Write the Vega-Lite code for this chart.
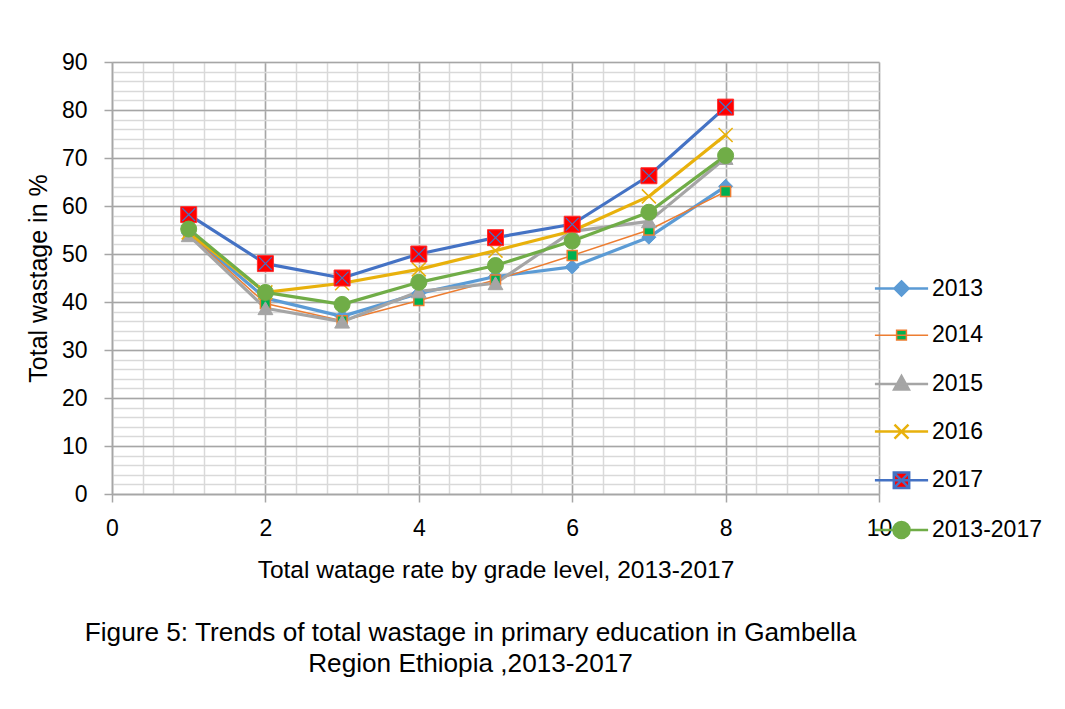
{
  "$schema": "https://vega.github.io/schema/vega-lite/v6.json",
  "width": 767,
  "height": 432,
  "autosize": "none",
  "padding": {"left": 112, "top": 62, "right": 186, "bottom": 215},
  "background": "white",
  "config": {
    "view": {"stroke": null},
    "font": "Liberation Sans"
  },
  "title": {
    "text": ["Figure 5: Trends of total wastage in primary education in Gambella", "Region Ethiopia ,2013-2017"],
    "orient": "bottom",
    "anchor": "middle",
    "font": "Liberation Sans",
    "fontSize": 26.2,
    "fontWeight": "normal",
    "color": "#000000",
    "lineHeight": 31,
    "offset": 38,
    "dx": -25
  },
  "data": {
    "values": [
      {"grade": 1, "series": "2013", "value": 54.3},
      {"grade": 2, "series": "2013", "value": 40.8},
      {"grade": 3, "series": "2013", "value": 37.0},
      {"grade": 4, "series": "2013", "value": 41.8},
      {"grade": 5, "series": "2013", "value": 45.3},
      {"grade": 6, "series": "2013", "value": 47.3},
      {"grade": 7, "series": "2013", "value": 53.5},
      {"grade": 8, "series": "2013", "value": 64.1},
      {"grade": 1, "series": "2014", "value": 54.2},
      {"grade": 2, "series": "2014", "value": 39.7},
      {"grade": 3, "series": "2014", "value": 36.1},
      {"grade": 4, "series": "2014", "value": 40.3},
      {"grade": 5, "series": "2014", "value": 44.6},
      {"grade": 6, "series": "2014", "value": 49.7},
      {"grade": 7, "series": "2014", "value": 55.0},
      {"grade": 8, "series": "2014", "value": 63.0},
      {"grade": 1, "series": "2015", "value": 53.9},
      {"grade": 2, "series": "2015", "value": 38.7},
      {"grade": 3, "series": "2015", "value": 35.9},
      {"grade": 4, "series": "2015", "value": 42.2},
      {"grade": 5, "series": "2015", "value": 43.9},
      {"grade": 6, "series": "2015", "value": 54.7},
      {"grade": 7, "series": "2015", "value": 56.8},
      {"grade": 8, "series": "2015", "value": 70.0},
      {"grade": 1, "series": "2016", "value": 54.5},
      {"grade": 2, "series": "2016", "value": 42.0},
      {"grade": 3, "series": "2016", "value": 43.9},
      {"grade": 4, "series": "2016", "value": 46.8},
      {"grade": 5, "series": "2016", "value": 50.7},
      {"grade": 6, "series": "2016", "value": 54.8},
      {"grade": 7, "series": "2016", "value": 62.0},
      {"grade": 8, "series": "2016", "value": 74.8},
      {"grade": 1, "series": "2017", "value": 58.2},
      {"grade": 2, "series": "2017", "value": 48.0},
      {"grade": 3, "series": "2017", "value": 45.0},
      {"grade": 4, "series": "2017", "value": 50.0},
      {"grade": 5, "series": "2017", "value": 53.4},
      {"grade": 6, "series": "2017", "value": 56.2},
      {"grade": 7, "series": "2017", "value": 66.3},
      {"grade": 8, "series": "2017", "value": 80.6},
      {"grade": 1, "series": "2013-2017", "value": 55.2},
      {"grade": 2, "series": "2013-2017", "value": 42.0},
      {"grade": 3, "series": "2013-2017", "value": 39.5},
      {"grade": 4, "series": "2013-2017", "value": 44.1},
      {"grade": 5, "series": "2013-2017", "value": 47.6},
      {"grade": 6, "series": "2013-2017", "value": 52.7},
      {"grade": 7, "series": "2013-2017", "value": 58.7},
      {"grade": 8, "series": "2013-2017", "value": 70.5}
    ]
  },
  "resolve": {"axis": {"x": "independent", "y": "independent"}},
  "layer": [
    {
      "mark": {"type": "line", "strokeJoin": "round", "strokeCap": "round"},
      "encoding": {
        "x": {
          "field": "grade", "type": "quantitative",
          "scale": {"domain": [0, 10], "nice": false, "zero": false},
          "axis": {
            "orient": "bottom",
            "values": [0, 0.4, 0.8, 1.2, 1.6, 2, 2.4, 2.8, 3.2, 3.6, 4, 4.4, 4.8, 5.2, 5.6, 6, 6.4, 6.8, 7.2, 7.6, 8, 8.4, 8.8, 9.2, 9.6, 10],
            "grid": true, "gridColor": "#d9d9d9", "gridWidth": 1.5,
            "labels": false, "ticks": false, "domain": false, "title": null
          }
        },
        "y": {
          "field": "value", "type": "quantitative",
          "scale": {"domain": [0, 90], "nice": false, "zero": false},
          "axis": {
            "orient": "left",
            "values": [0, 2, 4, 6, 8, 10, 12, 14, 16, 18, 20, 22, 24, 26, 28, 30, 32, 34, 36, 38, 40, 42, 44, 46, 48, 50, 52, 54, 56, 58, 60, 62, 64, 66, 68, 70, 72, 74, 76, 78, 80, 82, 84, 86, 88, 90],
            "grid": true, "gridColor": "#d9d9d9", "gridWidth": 1.5,
            "labels": false, "ticks": false, "domain": false, "title": null
          }
        },
        "color": {
          "field": "series", "type": "nominal",
          "scale": {
            "domain": ["2013", "2014", "2015", "2016", "2017", "2013-2017"],
            "range": ["#5B9BD5", "#ED7D31", "#A5A5A5", "#E8B10C", "#4472C4", "#70AD47"]
          },
          "legend": {
            "title": null,
            "orient": "none",
            "legendX": 778,
            "legendY": 215,
            "padding": 0,
            "rowPadding": 22.7,
            "labelFont": "Liberation Sans",
            "labelFontSize": 23,
            "labelColor": "#000000",
            "labelOffset": 19,
            "symbolSize": 196,
            "symbolStrokeWidth": 2.5,
            "encode": {
              "symbols": {
                "update": {
                  "shape": {"signal": "datum.value === '2013' ? 'M-3.8,0L3.8,0M0,-1L1,0L0,1L-1,0Z' : datum.value === '2014' ? 'M-3.8,0L3.8,0M-0.7,-0.7L0.7,-0.7L0.7,0.7L-0.7,0.7Z' : datum.value === '2015' ? 'M-3.8,0L3.8,0M0,-1.1L1.05,0.8L-1.05,0.8Z' : datum.value === '2016' ? 'M-3.8,0L3.8,0M-1,-1L1,1M-1,1L1,-1' : datum.value === '2017' ? 'M-3.8,0L3.8,0M-1.1,-1.1L1.1,-1.1L1.1,1.1L-1.1,1.1ZM-1,-1L1,1M-1,1L1,-1' : 'M-3.8,0L3.8,0M-1.15,0A1.15,1.15,0,1,0,1.15,0A1.15,1.15,0,1,0,-1.15,0Z'"},
                  "fill": {"signal": "datum.value === '2013' ? '#5B9BD5' : datum.value === '2014' ? '#00B050' : datum.value === '2015' ? '#A5A5A5' : datum.value === '2016' ? 'transparent' : datum.value === '2017' ? '#FF0000' : '#70AD47'"},
                  "strokeWidth": {"signal": "datum.value === '2014' ? 1.5 : 2.5"},
                  "opacity": {"value": 1}
                }
              }
            }
          }
        },
        "strokeWidth": {
          "condition": {"test": "datum.series === '2014'", "value": 1.5},
          "value": 3.2
        }
      }
    },
    {
      "transform": [{"filter": "datum.series === '2013'"}],
      "mark": {"type": "point", "shape": "diamond", "size": 196, "fill": "#5B9BD5", "stroke": "#5B9BD5", "strokeWidth": 1, "opacity": 1, "filled": true},
      "encoding": {
        "x": {
          "field": "grade", "type": "quantitative",
          "axis": {
            "orient": "bottom",
            "values": [0, 2, 4, 6, 8, 10],
            "grid": true, "gridColor": "#a6a6a6", "gridWidth": 1.5,
            "domain": true, "domainColor": "#a6a6a6", "domainWidth": 1.5,
            "ticks": true, "tickColor": "#a6a6a6", "tickWidth": 1.5, "tickSize": 8,
            "labelFont": "Liberation Sans", "labelFontSize": 23, "labelColor": "#000000", "labelPadding": 15, "labelFlush": false,
            "title": "Total watage rate by grade level, 2013-2017",
            "titleFont": "Liberation Sans", "titleFontSize": 24.5, "titleFontWeight": "normal", "titleColor": "#000000", "titlePadding": 18
          }
        },
        "y": {
          "field": "value", "type": "quantitative",
          "axis": {
            "orient": "left",
            "values": [0, 10, 20, 30, 40, 50, 60, 70, 80, 90],
            "grid": true, "gridColor": "#a6a6a6", "gridWidth": 1.5,
            "domain": true, "domainColor": "#a6a6a6", "domainWidth": 1.5,
            "ticks": true, "tickColor": "#a6a6a6", "tickWidth": 1.5, "tickSize": 8,
            "labelFont": "Liberation Sans", "labelFontSize": 23, "labelColor": "#000000", "labelPadding": 17, "labelFlush": false,
            "title": "Total wastage in %",
            "titleFont": "Liberation Sans", "titleFontSize": 25, "titleFontWeight": "normal", "titleColor": "#000000", "titlePadding": 10
          }
        }
      }
    },
    {
      "transform": [{"filter": "datum.series === '2014'"}],
      "mark": {"type": "point", "shape": "square", "size": 100, "fill": "#00B050", "stroke": "#ED7D31", "strokeWidth": 1.5, "opacity": 1, "filled": true},
      "encoding": {
        "x": {"field": "grade", "type": "quantitative", "axis": null},
        "y": {"field": "value", "type": "quantitative", "axis": null}
      }
    },
    {
      "transform": [{"filter": "datum.series === '2015'"}],
      "mark": {"type": "point", "shape": "triangle-up", "size": 220, "fill": "#A5A5A5", "stroke": "#A5A5A5", "strokeWidth": 1, "opacity": 1, "filled": true},
      "encoding": {
        "x": {"field": "grade", "type": "quantitative", "axis": null},
        "y": {"field": "value", "type": "quantitative", "axis": null}
      }
    },
    {
      "transform": [{"filter": "datum.series === '2016'"}],
      "mark": {"type": "point", "shape": "M-1,-1L1,1M-1,1L1,-1", "size": 196, "filled": false, "stroke": "#E8B10C", "strokeWidth": 1.5, "opacity": 1},
      "encoding": {
        "x": {"field": "grade", "type": "quantitative", "axis": null},
        "y": {"field": "value", "type": "quantitative", "axis": null}
      }
    },
    {
      "transform": [{"filter": "datum.series === '2017'"}],
      "mark": {"type": "point", "shape": "square", "size": 256, "fill": "#FF0000", "stroke": "#FF3030", "strokeWidth": 1, "opacity": 1, "filled": true},
      "encoding": {
        "x": {"field": "grade", "type": "quantitative", "axis": null},
        "y": {"field": "value", "type": "quantitative", "axis": null}
      }
    },
    {
      "transform": [{"filter": "datum.series === '2017'"}],
      "mark": {"type": "point", "filled": false, "shape": "M-0.8,-0.8L0.8,0.8M-0.8,0.8L0.8,-0.8", "size": 256, "stroke": "#4472C4", "strokeWidth": 1.2, "opacity": 1},
      "encoding": {
        "x": {"field": "grade", "type": "quantitative", "axis": null},
        "y": {"field": "value", "type": "quantitative", "axis": null}
      }
    },
    {
      "transform": [{"filter": "datum.series === '2013-2017'"}],
      "mark": {"type": "point", "shape": "circle", "size": 256, "fill": "#70AD47", "stroke": "#70AD47", "strokeWidth": 1, "opacity": 1, "filled": true},
      "encoding": {
        "x": {"field": "grade", "type": "quantitative", "axis": null},
        "y": {"field": "value", "type": "quantitative", "axis": null}
      }
    }
  ]
}
